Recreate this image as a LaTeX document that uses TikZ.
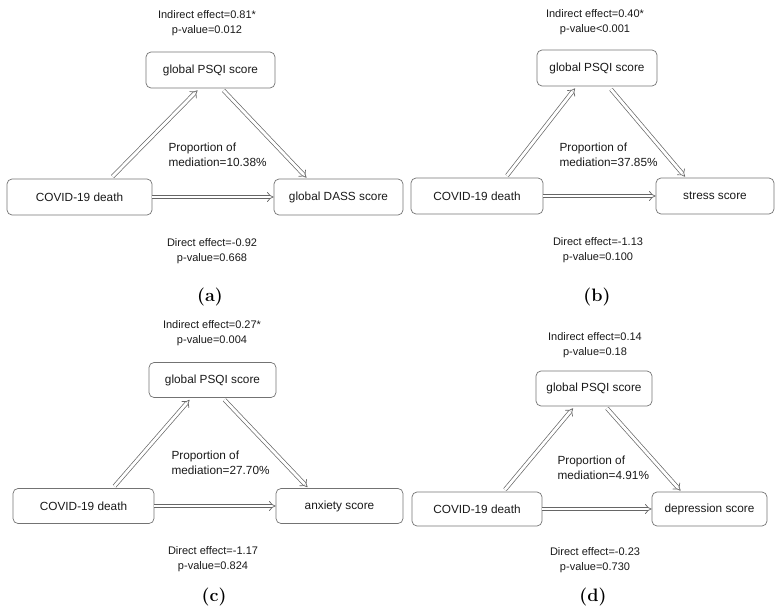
\documentclass[tikz,border=0pt]{standalone}
\usepackage{fontspec}
\setmainfont{Liberation Sans}
\newfontfamily\capfont{Latin Modern Roman}
\usetikzlibrary{arrows.meta}
\tikzset{
  vbox/.style={draw=black!55, line width=0.7pt, rounded corners=5pt, inner sep=0pt,
    minimum height=36pt, font=\fontsize{11.8}{14}\selectfont, text=black!90},
  dbl/.style={draw=black!60, line width=0.7pt, double=white, double distance=2.8pt,
    -{Implies[length=4.5pt,width=10pt]}},
  efftxt/.style={align=center, font=\fontsize{11}{15}\selectfont, text=black!90},
  proptxt/.style={align=left, anchor=west, font=\fontsize{11.8}{15}\selectfont, text=black!90},
  captxt/.style={font=\capfont\fontsize{18}{20}\selectfont\bfseries}
}
\begin{document}
\begin{tikzpicture}[x=1pt,y=-1pt]
\useasboundingbox (0,0) rectangle (777,607);
% ---------- panel a ----------
\node[vbox, minimum width=129pt] (psqiA) at (210.5,70) {global PSQI score};
\node[vbox, minimum width=145pt] (covA) at (79.5,197) {COVID-19 death};
\node[vbox, minimum width=129pt] (dassA) at (338.5,197) {global DASS score};
\draw[dbl] ([xshift=33pt,yshift=2pt]covA.north) -- ([xshift=-13pt,yshift=-2pt]psqiA.south);
\draw[dbl] ([xshift=13pt,yshift=-2pt]psqiA.south) -- ([xshift=-32pt,yshift=1pt]dassA.north);
\draw[dbl] (covA.east) -- (dassA.west);
\node[efftxt] (indA) at (207,23) {Indirect effect=0.81*\\p-value=0.012};
\node[proptxt] (propA) at (165,155) {Proportion of\\mediation=10.38\%};
\node[efftxt] (dirA) at (212,251) {Direct effect=-0.92\\p-value=0.668};
\node[captxt] (capA) at (210,297) {(a)};
% ---------- panel b ----------
\node[vbox, minimum width=120pt] (psqiB) at (597,68) {global PSQI score};
\node[vbox, minimum width=132pt] (covB) at (477,196) {COVID-19 death};
\node[vbox, minimum width=118pt] (stressB) at (715,196) {stress score};
\draw[dbl] ([xshift=30pt,yshift=2pt]covB.north) -- ([xshift=-22pt,yshift=-2pt]psqiB.south);
\draw[dbl] ([xshift=14pt,yshift=-3pt]psqiB.south) -- ([xshift=-30pt,yshift=1pt]stressB.north);
\draw[dbl] (covB.east) -- (stressB.west);
\node[efftxt] (indB) at (595,22) {Indirect effect=0.40*\\p-value<0.001};
\node[proptxt] (propB) at (556,155) {Proportion of\\mediation=37.85\%};
\node[efftxt] (dirB) at (598,250) {Direct effect=-1.13\\p-value=0.100};
\node[captxt] (capB) at (597,297) {(b)};
% ---------- panel c ----------
\node[vbox, minimum width=127pt, minimum height=35pt] (psqiC) at (212.5,380) {global PSQI score};
\node[vbox, minimum width=141pt, minimum height=35pt] (covC) at (83.5,506) {COVID-19 death};
\node[vbox, minimum width=127pt, minimum height=35pt] (anxC) at (339.5,506) {anxiety score};
\draw[dbl] ([xshift=31pt,yshift=2pt]covC.north) -- ([xshift=-23pt,yshift=-2pt]psqiC.south);
\draw[dbl] ([xshift=12pt,yshift=-2pt]psqiC.south) -- ([xshift=-32pt,yshift=1pt]anxC.north);
\draw[dbl] (covC.east) -- (anxC.west);
\node[efftxt] (indC) at (212,333) {Indirect effect=0.27*\\p-value=0.004};
\node[proptxt] (propC) at (168,463) {Proportion of\\mediation=27.70\%};
\node[efftxt] (dirC) at (213,559) {Direct effect=-1.17\\p-value=0.824};
\node[captxt] (capC) at (214,597) {(c)};
% ---------- panel d ----------
\node[vbox, minimum width=116pt, minimum height=35pt] (psqiD) at (594,388.5) {global PSQI score};
\node[vbox, minimum width=130pt, minimum height=34pt] (covD) at (477,509) {COVID-19 death};
\node[vbox, minimum width=115pt, minimum height=34pt] (depD) at (709.5,509) {depression score};
\draw[dbl] ([xshift=28pt,yshift=2pt]covD.north) -- ([xshift=-21pt,yshift=-2pt]psqiD.south);
\draw[dbl] ([xshift=13pt,yshift=-2pt]psqiD.south) -- ([xshift=-29pt,yshift=1pt]depD.north);
\draw[dbl] (covD.east) -- (depD.west);
\node[efftxt] (indD) at (595,345) {Indirect effect=0.14\\p-value=0.18};
\node[proptxt] (propD) at (554,468) {Proportion of\\mediation=4.91\%};
\node[efftxt] (dirD) at (595,560) {Direct effect=-0.23\\p-value=0.730};
\node[captxt] (capD) at (593,597) {(d)};
\end{tikzpicture}
\end{document}
